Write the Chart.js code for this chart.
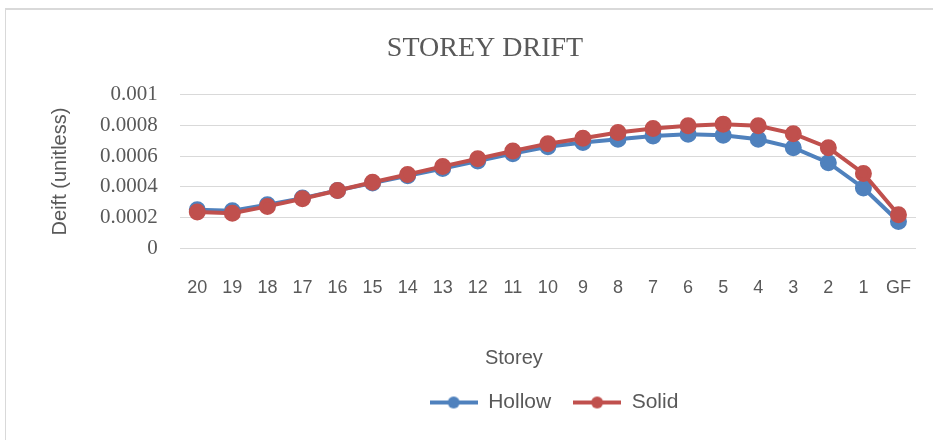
<!DOCTYPE html>
<html>
<head>
<meta charset="utf-8">
<script src="https://cdn.jsdelivr.net/npm/chart.js@4"></script>
<style>
  html, body { margin: 0; padding: 0; background: #fff; }
  #wrap { position: relative; width: 933px; height: 440px; }
  #frame { position: absolute; left: 5px; top: 8px; width: 940px; height: 440px;
           border-left: 1px solid #d9d9d9; border-top: 2px solid #d9d9d9; }
  #chart { position: absolute; left: 0; top: 0; }
</style>
</head>
<body>
<div id="wrap">
  <div id="frame"></div>
  <canvas id="chart" width="933" height="440"></canvas>
</div>
<script>
// storeys, top to bottom
const storeys = ["20", "19", "18", "17", "16", "15", "14", "13", "12", "11", "10",
  "9", "8", "7", "6", "5", "4", "3", "2", "1", "GF"];

const hollow = [0.000251, 0.000245, 0.000284, 0.000327, 0.000377, 0.000425, 0.000472,
  0.00052, 0.000568, 0.000616, 0.000661, 0.000688, 0.00071, 0.000731, 0.000742,
  0.000736, 0.00071, 0.000655, 0.000557, 0.000393, 0.000175];

const solid = [0.000236, 0.000229, 0.000273, 0.000323, 0.000376, 0.00043, 0.00048,
  0.000533, 0.000583, 0.000633, 0.000681, 0.000716, 0.000753, 0.000779, 0.000797,
  0.000808, 0.000797, 0.000746, 0.000655, 0.000487, 0.000219];

const yTickLabels = ["0", "0.0002", "0.0004", "0.0006", "0.0008", "0.001"];

const BLUE = "#4f81bd";
const RED = "#c0504d";
const TEXT = "#595959";

// legend marker: line with a dot in the middle
function legendMarker(color) {
  const c = document.createElement("canvas");
  c.width = 48;
  c.height = 14;
  const g = c.getContext("2d");
  g.strokeStyle = color;
  g.lineWidth = 4;
  g.beginPath();
  g.moveTo(0, 7);
  g.lineTo(48, 7);
  g.stroke();
  g.fillStyle = color;
  g.beginPath();
  g.arc(24, 7, 6, 0, Math.PI * 2);
  g.fill();
  return c;
}

// in the original the legend/title sit right of centre and the x title left of it
const nudgeBoxes = {
  id: "nudgeBoxes",
  afterLayout(chart) {
    const lg = chart.legend;
    if (lg) {
      lg.left += 86;
      lg.right += 86;
    }
    const tb = chart.titleBlock;
    if (tb) {
      tb.left += 17;
      tb.right += 17;
    }
    const x = chart.scales.x;
    if (x && !x._nudged) {
      const drawTitle = x.drawTitle.bind(x);
      x.drawTitle = function () {
        const l = this.left;
        this.left -= 68;
        drawTitle();
        this.left = l;
      };
      x._nudged = true;
    }
  },
};

const ctx = document.getElementById("chart").getContext("2d");

new Chart(ctx, {
  type: "line",
  data: {
    labels: storeys,
    datasets: [
      {
        label: "Hollow",
        data: hollow,
        borderColor: BLUE,
        backgroundColor: BLUE,
        borderWidth: 4,
        pointRadius: 6.5,
        pointHoverRadius: 6.5,
        order: 2,
      },
      {
        label: "Solid",
        data: solid,
        borderColor: RED,
        backgroundColor: RED,
        borderWidth: 4,
        pointRadius: 6.5,
        pointHoverRadius: 6.5,
        order: 1,
      },
    ],
  },
  plugins: [nudgeBoxes],
  options: {
    responsive: false,
    animation: false,
    layout: {
      padding: { top: 0, left: 20, right: 17, bottom: 17 },
    },
    scales: {
      x: {
        offset: true,
        // invisible tick marks only make room under the plot
        grid: {
          display: true,
          color: "rgba(0,0,0,0)",
          drawOnChartArea: false,
          drawTicks: true,
          tickLength: 26,
        },
        border: { display: false },
        ticks: {
          color: TEXT,
          padding: 3,
          autoSkip: false,
          maxRotation: 0,
          font: { family: "Liberation Sans", size: 18 },
        },
        title: {
          display: true,
          text: "Storey",
          color: TEXT,
          font: { family: "Liberation Sans", size: 20 },
          padding: { top: 44, bottom: 0 },
        },
      },
      y: {
        min: 0,
        max: 0.001,
        grid: { color: "#d9d9d9", lineWidth: 1, drawTicks: false },
        border: { display: false },
        ticks: {
          stepSize: 0.0002,
          autoSkip: false,
          color: TEXT,
          padding: 22,
          font: { family: "Liberation Serif", size: 21 },
          callback: (value, index) => yTickLabels[index],
        },
        title: {
          display: true,
          text: "Deift (unitless)",
          color: TEXT,
          font: { family: "Liberation Sans", size: 20 },
          padding: { top: 28, bottom: 6 },
        },
      },
    },
    plugins: {
      title: {
        display: true,
        text: "STOREY DRIFT",
        color: TEXT,
        font: { family: "Liberation Serif", size: 28, weight: "normal" },
        padding: { top: 32, bottom: 29 },
      },
      legend: {
        position: "bottom",
        labels: {
          color: TEXT,
          font: { family: "Liberation Sans", size: 21 },
          usePointStyle: true,
          pointStyleWidth: 48,
          padding: 22,
          generateLabels: (chart) =>
            chart.data.datasets.map((ds, i) => ({
              text: ds.label,
              fillStyle: ds.borderColor,
              strokeStyle: ds.borderColor,
              fontColor: TEXT,
              pointStyle: legendMarker(ds.borderColor),
              lineWidth: 0,
              datasetIndex: i,
            })),
        },
      },
      tooltip: { enabled: false },
    },
  },
});
</script>
</body>
</html>
